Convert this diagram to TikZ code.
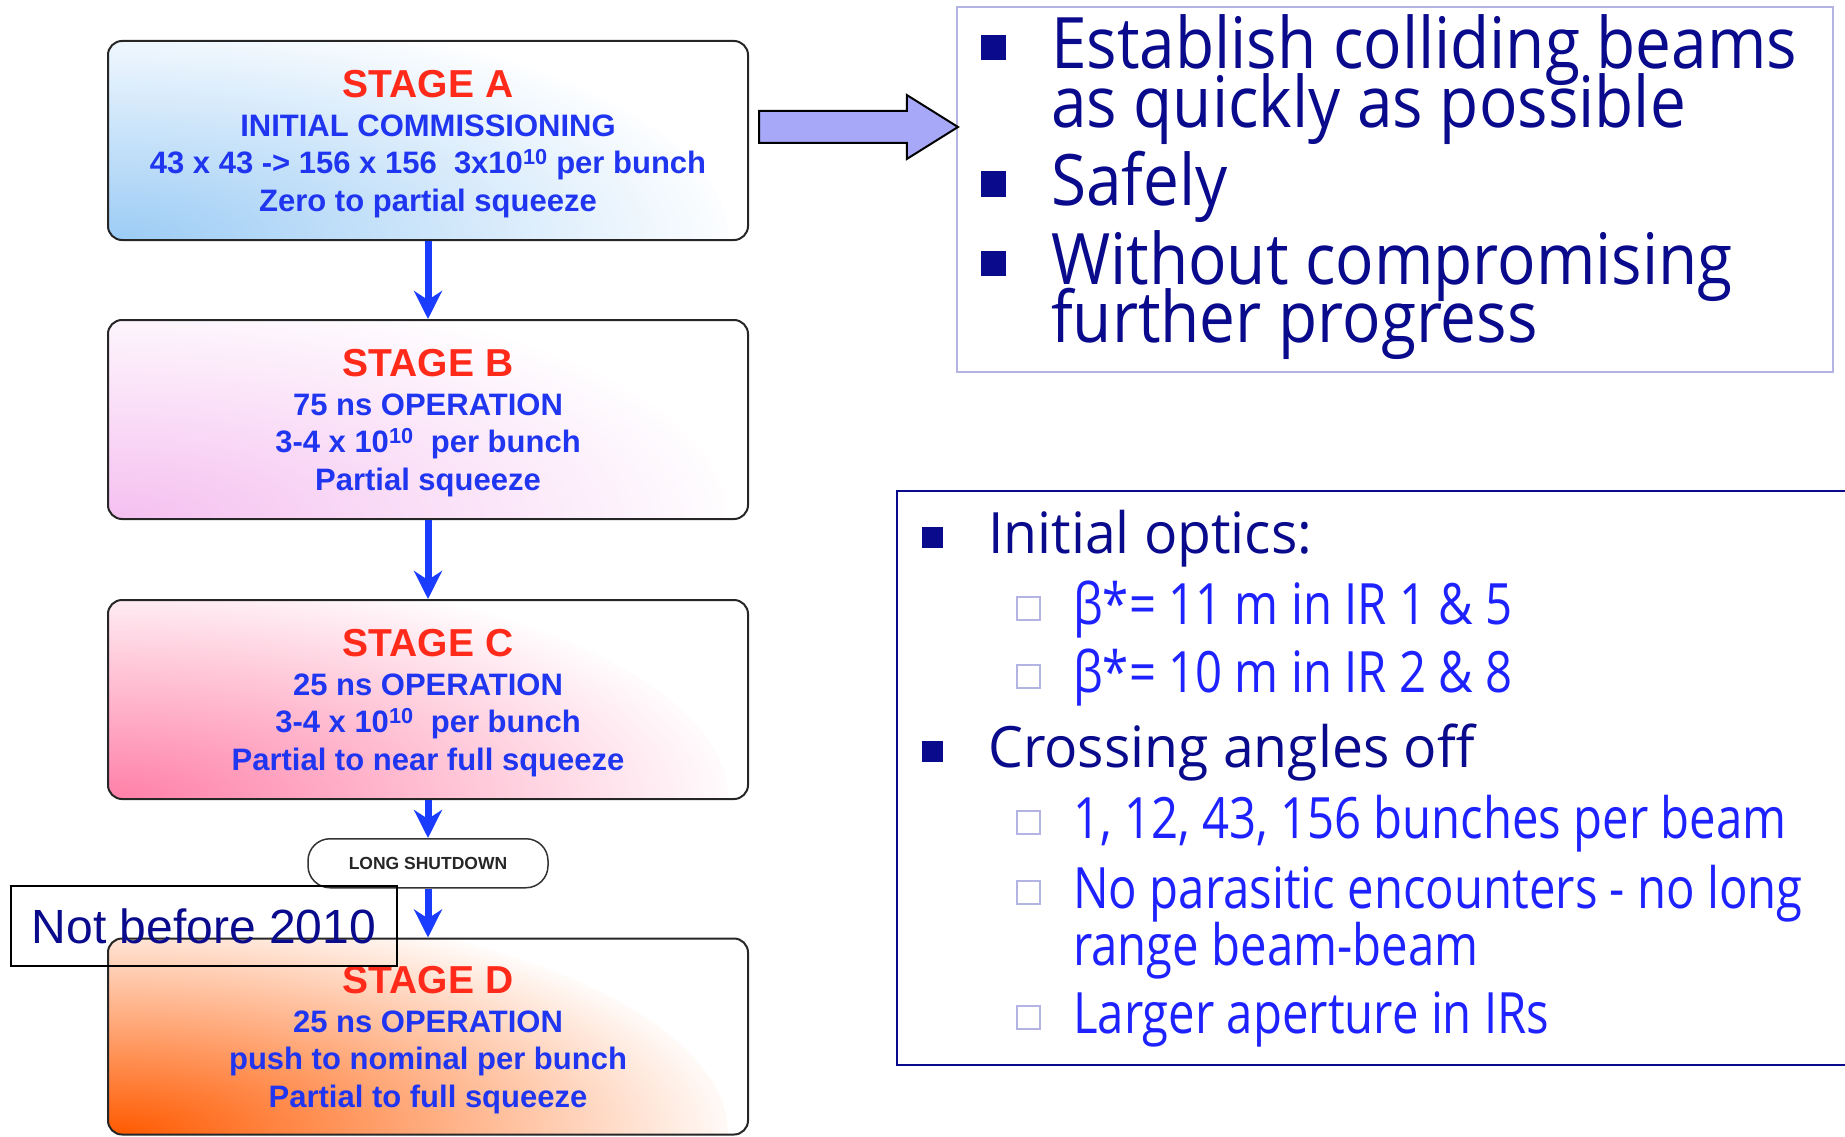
\documentclass[tikz,border=0pt]{standalone}
\usepackage{fontspec}
\setmainfont{Liberation Sans}
\newfontfamily\handfont[FakeStretch=0.90]{Open Sans}
\newfontfamily\handwide[FakeStretch=0.97]{Open Sans}
\newfontfamily\handnarrow[FakeStretch=0.83]{Open Sans}
\usetikzlibrary{positioning, shapes.arrows, arrows.meta}

\definecolor{stagered}{HTML}{FF2A1A}
\definecolor{stageblue}{HTML}{1F35F0}
\definecolor{arrowblue}{HTML}{1A3CFF}
\definecolor{fillA}{HTML}{9CCCF5}
\definecolor{fillB}{HTML}{F5C0F0}
\definecolor{fillC}{HTML}{FF80A8}
\definecolor{fillD}{HTML}{FF5A00}
\definecolor{navy}{HTML}{0A0A8C}
\definecolor{brightblue}{HTML}{1E22FF}
\definecolor{lavender}{HTML}{B4B4E4}
\definecolor{arrowfill}{HTML}{A8A8F8}

\newcommand{\stagetitle}[1]{{\rule{0pt}{34pt}\fontsize{39}{40}\selectfont\color{stagered}#1}}

\tikzset{
  stagebox/.style={draw=black!85, fill=white, line width=2pt, rounded corners=14pt,
    minimum width=640pt, minimum height=199pt, align=center, text=stageblue,
    font=\fontsize{31}{37.5}\selectfont\bfseries,
    path picture={\shade[inner color=#1, outer color=white]
      (path picture bounding box.south west) ellipse [x radius=620pt, y radius=235pt];}},
  stageflow/.style={draw=arrowblue, line width=7pt,
    -{Stealth[length=28pt, width=28pt, inset=9pt]}},
  goalline/.style={anchor=base west, inner sep=0pt, text=navy,
    font=\handfont\fontsize{71}{71}\selectfont},
  planline/.style={anchor=base west, inner sep=0pt, text=navy,
    font=\handwide\fontsize{57}{57}\selectfont},
  subline/.style={anchor=base west, inner sep=0pt, text=brightblue,
    font=\handnarrow\fontsize{57}{57}\selectfont},
  sqbullet/.style={fill=navy, minimum size=#1, inner sep=0pt},
  subbullet/.style={draw=lavender, line width=2pt, minimum size=23pt, inner sep=0pt}
}

\begin{document}
\begin{tikzpicture}[x=1pt, y=-1pt]
    \useasboundingbox (0,0) rectangle (1845,1137);

    % stages
    \node[stagebox=fillA] (stageA) at (428,140.5) {\stagetitle{STAGE A}\\[1pt] INITIAL COMMISSIONING\\ 43 x 43 -> 156 x 156~~3x10\textsuperscript{10} per bunch\\ Zero to partial squeeze};
    \node[stagebox=fillB, below=78pt of stageA] (stageB) {\stagetitle{STAGE B}\\[1pt] 75 ns OPERATION\\ 3-4 x 10\textsuperscript{10}~~per bunch\\ Partial squeeze};
    \node[stagebox=fillC, below=79pt of stageB] (stageC) {\stagetitle{STAGE C}\\[1pt] 25 ns OPERATION\\ 3-4 x 10\textsuperscript{10}~~per bunch\\ Partial to near full squeeze};
    \node[draw=black!80, line width=1.5pt, rounded corners=22pt, minimum width=240pt, minimum height=49pt,
        font=\fontsize{17.5}{18}\selectfont\bfseries, text=black!85, below=38pt of stageC] (shutdown) {LONG SHUTDOWN};
    \node[stagebox=fillD, minimum height=196pt, below=49pt of shutdown] (stageD) {\stagetitle{STAGE D}\\[1pt] 25 ns OPERATION\\ push to nominal per bunch\\ Partial to full squeeze};
    \node[draw=black, line width=2pt, minimum width=386pt, minimum height=80pt, text=navy,
        font=\fontsize{48}{50}\selectfont] (note) at (204,926) {Not before 2010};

    \draw[stageflow] (stageA) -- (stageB);
    \draw[stageflow] (stageB) -- (stageC);
    \draw[stageflow] (stageC) -- (shutdown);
    \draw[stageflow] (shutdown) -- (stageD);

    % goals
    \node[draw=lavender, line width=1.5pt, minimum width=876pt, minimum height=365pt] (goals) at (1395,189.5) {};
    \node[draw=black, line width=2pt, fill=arrowfill, single arrow, inner sep=15pt, minimum height=199pt,
        single arrow head extend=16pt, single arrow tip angle=64, anchor=tail] (goalarrow) at (758,127) {};

    \node[sqbullet=25pt] (gb1) at (993,48) {};
    \node[goalline] (g1a) at (1051,69) {Establish colliding beams};
    \node[goalline] (g1b) at (1051,128) {as quickly as possible};
    \node[sqbullet=25pt] (gb2) at (993,184) {};
    \node[goalline] (g2) at (1051,205) {Safely};
    \node[sqbullet=25pt] (gb3) at (993,263) {};
    \node[goalline] (g3a) at (1051,284) {Without compromising};
    \node[goalline] (g3b) at (1051,342) {further progress};

    % plan
    \node[draw=navy, line width=2pt, minimum width=963pt, minimum height=574pt] (plan) at (1378.5,778) {};

    \node[sqbullet=21pt] (pb1) at (932,537) {};
    \node[planline] (p1) at (988,553) {Initial optics:};
    \node[subbullet] (sb1) at (1028,608) {};
    \node[subline] (s1) at (1073,624) {β*= 11 m in IR 1 \& 5};
    \node[subbullet] (sb2) at (1028,676) {};
    \node[subline] (s2) at (1073,692) {β*= 10 m in IR 2 \& 8};
    \node[sqbullet=21pt] (pb2) at (932,751) {};
    \node[planline] (p2) at (988,767) {Crossing angles off};
    \node[subbullet] (sb3) at (1028,822) {};
    \node[subline] (s3) at (1073,838) {1, 12, 43, 156 bunches per beam};
    \node[subbullet] (sb4) at (1028,892) {};
    \node[subline] (s4a) at (1073,908) {No parasitic encounters - no long};
    \node[subline] (s4b) at (1073,965) {range beam-beam};
    \node[subbullet] (sb5) at (1028,1017) {};
    \node[subline] (s5) at (1073,1033) {Larger aperture in IRs};
\end{tikzpicture}
\end{document}
